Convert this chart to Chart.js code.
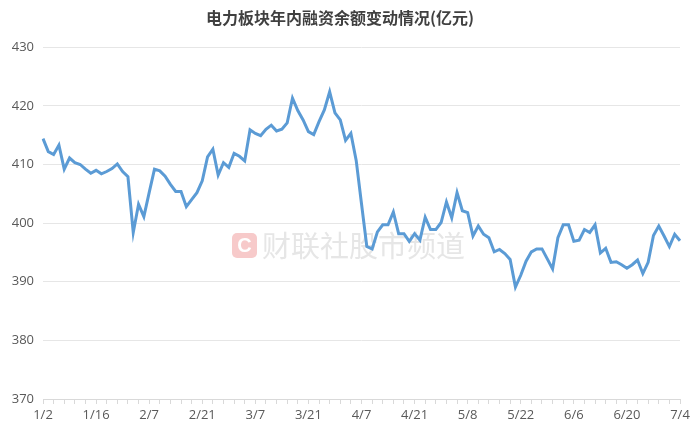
<!DOCTYPE html>
<html>
<head>
<meta charset="utf-8">
<script src="https://cdn.jsdelivr.net/npm/chart.js@4/dist/chart.umd.min.js"></script>
<style>
  html, body { margin: 0; padding: 0; background: #ffffff; }
  #wrap { width: 693px; height: 433px; position: relative; }
</style>
</head>
<body>
<div id="wrap"><canvas id="c" width="693" height="433"></canvas></div>
<script>
const chartTitle = '电力板块年内融资余额变动情况(亿元)';
const watermarkText = '财联社股市频道';

const dates = [
  '1/2','1/3','1/6','1/7','1/8','1/9','1/10','1/13','1/14','1/15','1/16','1/17','1/20','1/21','1/22','1/23','1/24','1/27',
  '2/5','2/6','2/7','2/10','2/11','2/12','2/13','2/14','2/17','2/18','2/19','2/20','2/21','2/24','2/25','2/26','2/27','2/28',
  '3/3','3/4','3/5','3/6','3/7','3/10','3/11','3/12','3/13','3/14','3/17','3/18','3/19','3/20','3/21','3/24','3/25','3/26','3/27','3/28','3/31',
  '4/1','4/2','4/3','4/7','4/8','4/9','4/10','4/11','4/14','4/15','4/16','4/17','4/18','4/21','4/22','4/23','4/24','4/25','4/28','4/29','4/30',
  '5/6','5/7','5/8','5/9','5/12','5/13','5/14','5/15','5/16','5/19','5/20','5/21','5/22','5/23','5/26','5/27','5/28','5/29','5/30',
  '6/3','6/4','6/5','6/6','6/9','6/10','6/11','6/12','6/13','6/16','6/17','6/18','6/19','6/20','6/23','6/24','6/25','6/26','6/27','6/30',
  '7/1','7/2','7/3','7/4'
];

const balance = [
  414.4, 412.2, 411.7, 413.3, 409.2, 411.1, 410.3, 410.0, 409.2, 408.5,
  409.0, 408.4, 408.8, 409.3, 410.1, 408.8, 407.9, 398.4, 403.2, 401.1,
  405.2, 409.2, 408.9, 408.0, 406.6, 405.4, 405.4, 402.8, 404.0, 405.2,
  407.2, 411.3, 412.6, 408.2, 410.3, 409.5, 411.9, 411.4, 410.6, 415.9,
  415.3, 414.9, 416.0, 416.7, 415.7, 416.0, 417.1, 421.3, 419.2, 417.6,
  415.6, 415.1, 417.3, 419.3, 422.4, 418.8, 417.6, 414.1, 415.3, 410.7,
  403.3, 396.0, 395.6, 398.5, 399.7, 399.7, 401.9, 398.2, 398.2, 396.9,
  398.2, 397.1, 401.0, 398.9, 398.9, 400.1, 403.6, 400.9, 405.2, 402.1,
  401.8, 397.8, 399.5, 398.1, 397.5, 395.1, 395.5, 394.8, 393.8, 389.1,
  391.1, 393.5, 395.1, 395.6, 395.6, 393.9, 392.2, 397.5, 399.7, 399.7,
  396.9, 397.1, 398.9, 398.4, 399.7, 394.9, 395.7, 393.3, 393.4, 392.9,
  392.3, 392.9, 393.7, 391.4, 393.3, 397.9, 399.5, 397.8, 396.0, 398.1,
  397.0
];

const yMin = 370;
const yMax = 430;
const yStep = 10;

const watermarkPlugin = {
  id: 'watermark',
  beforeDatasetsDraw(chart) {
    const ctx = chart.ctx;
    ctx.save();
    const lx = 232, ly = 233, ls = 25;
    ctx.fillStyle = '#f7caca';
    const r = 5;
    ctx.beginPath();
    ctx.moveTo(lx + r, ly);
    ctx.arcTo(lx + ls, ly, lx + ls, ly + ls, r);
    ctx.arcTo(lx + ls, ly + ls, lx, ly + ls, r);
    ctx.arcTo(lx, ly + ls, lx, ly, r);
    ctx.arcTo(lx, ly, lx + ls, ly, r);
    ctx.closePath();
    ctx.fill();
    ctx.fillStyle = '#ffffff';
    ctx.font = 'bold 20px "Liberation Sans", sans-serif';
    ctx.textAlign = 'center';
    ctx.textBaseline = 'middle';
    ctx.fillText('C', lx + ls / 2, ly + ls / 2 + 1);
    ctx.fillStyle = '#e6e6e6';
    ctx.font = '29px "Noto Sans CJK SC", sans-serif';
    ctx.textAlign = 'left';
    ctx.fillText(watermarkText, 262, 246);
    ctx.restore();
  }
};

new Chart(document.getElementById('c'), {
  type: 'line',
  data: {
    labels: dates,
    datasets: [{
      data: balance,
      borderColor: '#5b9bd5',
      borderWidth: 3,
      pointRadius: 0,
      pointHoverRadius: 0,
      tension: 0,
      fill: false
    }]
  },
  options: {
    responsive: false,
    animation: false,
    layout: { padding: { left: 0, right: 13, top: 0, bottom: 0 } },
    plugins: {
      legend: { display: false },
      tooltip: { enabled: false },
      title: {
        display: true,
        text: chartTitle,
        color: '#404040',
        font: { family: '"Noto Sans CJK SC", sans-serif', size: 16, weight: 'bold' },
        padding: { top: 8, bottom: 20 }
      }
    },
    scales: {
      x: {
        type: 'category',
        offset: false,
        grid: {
          display: true,
          drawOnChartArea: false,
          drawTicks: true,
          tickLength: 5,
          color: '#d9d9d9'
        },
        border: { display: true, color: '#d9d9d9' },
        ticks: {
          autoSkip: false,
          maxRotation: 0,
          minRotation: 0,
          padding: 3,
          color: '#595959',
          font: { family: '"Open Sans", "Liberation Sans", sans-serif', size: 13 },
          callback: function (v, i) {
            if (i % 2 !== 0) return null;
            return i % 10 === 0 ? dates[i] : '';
          }
        },
        afterFit: function (scale) { scale.height = 34; }
      },
      y: {
        min: yMin,
        max: yMax,
        grid: { color: '#e6e6e6', drawTicks: false },
        border: { display: false },
        ticks: {
          stepSize: yStep,
          padding: 9,
          color: '#595959',
          font: { family: '"Open Sans", "Liberation Sans", sans-serif', size: 13 }
        },
        afterFit: function (scale) { scale.width = 43; }
      }
    }
  },
  plugins: [watermarkPlugin]
});
</script>
</body>
</html>
